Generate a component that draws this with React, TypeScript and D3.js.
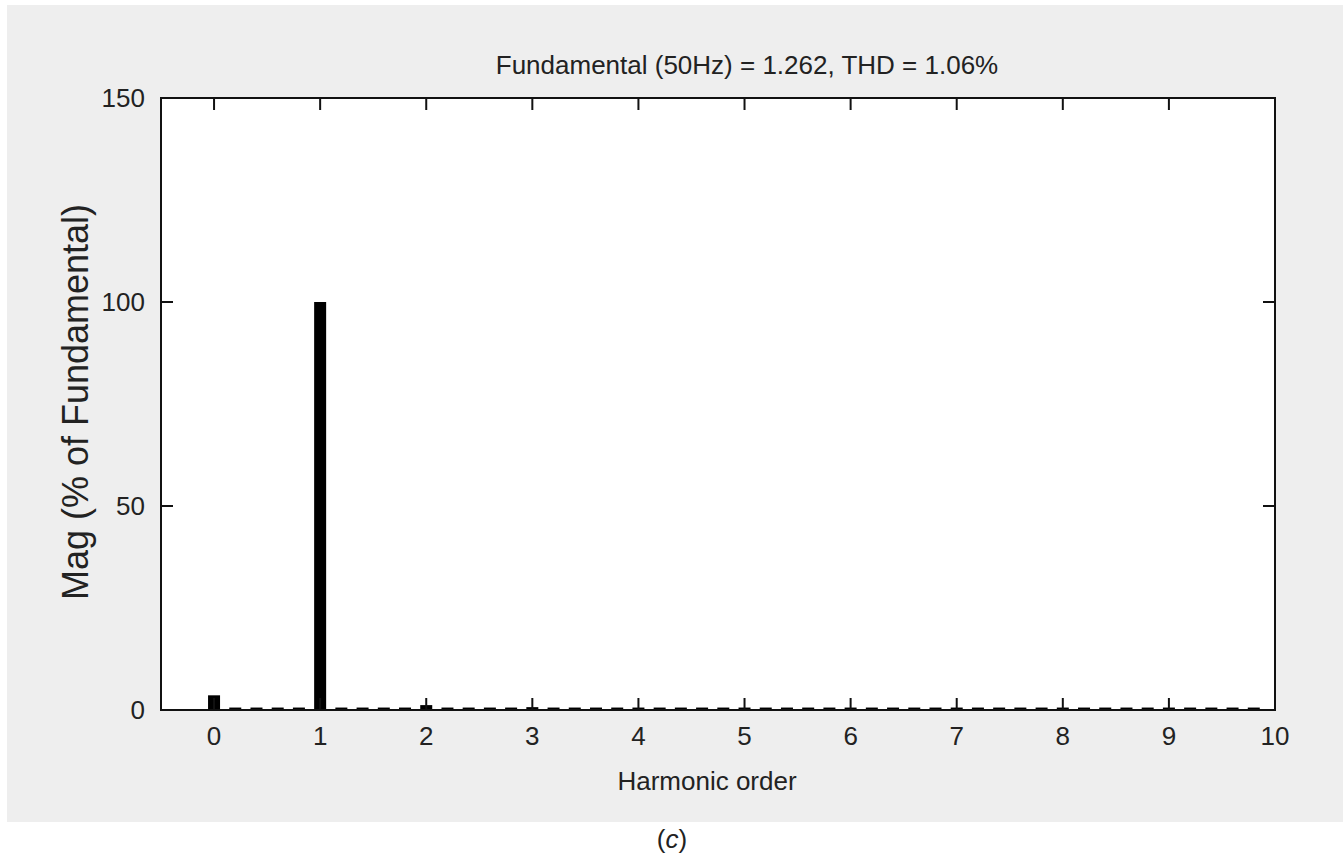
import { useRef, useEffect } from "react";
import * as d3 from "d3";

// harmonic bins, 0.2 order step (10 Hz resolution on a 50 Hz fundamental)
const orders = [
  0, 0.2, 0.4, 0.6, 0.8, 1, 1.2, 1.4, 1.6, 1.8,
  2, 2.2, 2.4, 2.6, 2.8, 3, 3.2, 3.4, 3.6, 3.8,
  4, 4.2, 4.4, 4.6, 4.8, 5, 5.2, 5.4, 5.6, 5.8,
  6, 6.2, 6.4, 6.6, 6.8, 7, 7.2, 7.4, 7.6, 7.8,
  8, 8.2, 8.4, 8.6, 8.8, 9, 9.2, 9.4, 9.6, 9.8,
];
const mags = [
  3.6, 0.6, 0.6, 0.6, 0.6, 100, 0.6, 0.6, 0.6, 0.6,
  1.2, 0.6, 0.6, 0.6, 0.6, 0.7, 0.6, 0.6, 0.6, 0.6,
  0.6, 0.6, 0.6, 0.6, 0.6, 0.6, 0.6, 0.6, 0.6, 0.6,
  0.6, 0.6, 0.6, 0.6, 0.6, 0.6, 0.6, 0.6, 0.6, 0.6,
  0.6, 0.6, 0.6, 0.6, 0.6, 0.6, 0.6, 0.6, 0.6, 0.6,
];
const xTicks = [0, 1, 2, 3, 4, 5, 6, 7, 8, 9, 10];
const yTicks = [0, 50, 100, 150];

const title = "Fundamental (50Hz) = 1.262, THD = 1.06%";
const xLabel = "Harmonic order";
const yLabel = "Mag (% of Fundamental)";

export default function App() {
  const ref = useRef<SVGSVGElement>(null);

  useEffect(() => {
    const svg = d3.select(ref.current);
    svg.selectAll("*").remove();

    const width = 1343;
    const left = 161, right = 1275, top = 98, bottom = 710;
    const font = "Liberation Sans, Arial, sans-serif";
    const fs = 26;

    // grey figure background
    svg.append("rect")
      .attr("x", 7).attr("y", 5)
      .attr("width", width - 7).attr("height", 817)
      .attr("fill", "#eeeeee");

    const x = d3.scaleLinear().domain([-0.5, 10]).range([left, right]);
    const y = d3.scaleLinear().domain([0, 150]).range([bottom, top]);

    svg.append("rect")
      .attr("x", left).attr("y", top)
      .attr("width", right - left).attr("height", bottom - top)
      .attr("fill", "#fff");

    // --- bars ---
    const barW = 12;
    svg.append("g")
      .selectAll("rect")
      .data(orders)
      .join("rect")
      .attr("x", (d) => x(d) - barW / 2)
      .attr("y", (d, i) => y(mags[i]))
      .attr("width", barW)
      .attr("height", (d, i) => bottom - y(mags[i]))
      .attr("fill", "#000");

    const tickLen = 12;
    const ax = svg.append("g").attr("stroke", "#111").attr("stroke-width", 2);

    // --- inner ticks ---
    xTicks.forEach((t) => {
      ax.append("line").attr("x1", x(t)).attr("x2", x(t))
        .attr("y1", bottom).attr("y2", bottom - tickLen);
      ax.append("line").attr("x1", x(t)).attr("x2", x(t))
        .attr("y1", top).attr("y2", top + tickLen);
    });
    yTicks.forEach((t) => {
      ax.append("line").attr("x1", left).attr("x2", left + tickLen)
        .attr("y1", y(t)).attr("y2", y(t));
      ax.append("line").attr("x1", right).attr("x2", right - tickLen)
        .attr("y1", y(t)).attr("y2", y(t));
    });

    // frame
    svg.append("rect")
      .attr("x", left).attr("y", top)
      .attr("width", right - left).attr("height", bottom - top)
      .attr("fill", "none").attr("stroke", "#111").attr("stroke-width", 2);

    // --- tick labels ---
    svg.append("g")
      .selectAll("text")
      .data(xTicks)
      .join("text")
      .attr("x", (d) => x(d))
      .attr("y", 745)
      .attr("text-anchor", "middle")
      .attr("font-family", font)
      .attr("font-size", fs)
      .attr("fill", "#222")
      .text((d) => d);

    svg.append("g")
      .selectAll("text")
      .data(yTicks)
      .join("text")
      .attr("x", 145)
      .attr("y", (d) => y(d) + 9)
      .attr("text-anchor", "end")
      .attr("font-family", font)
      .attr("font-size", fs)
      .attr("fill", "#222")
      .text((d) => d);

    // --- titles ---
    svg.append("text")
      .attr("x", 747).attr("y", 74)
      .attr("text-anchor", "middle")
      .attr("font-family", font).attr("font-size", fs).attr("fill", "#222")
      .text(title);

    svg.append("text")
      .attr("x", 707).attr("y", 790)
      .attr("text-anchor", "middle")
      .attr("font-family", font).attr("font-size", fs).attr("fill", "#222")
      .text(xLabel);

    svg.append("text")
      .attr("transform", `translate(88,402) rotate(-90)`)
      .attr("text-anchor", "middle")
      .attr("font-family", font).attr("font-size", 36).attr("fill", "#222")
      .text(yLabel);

    const cap = svg.append("text")
      .attr("x", 672).attr("y", 848)
      .attr("text-anchor", "middle")
      .attr("font-family", font).attr("font-size", fs).attr("fill", "#222");
    cap.append("tspan").text("(");
    cap.append("tspan").attr("font-style", "italic").text("c");
    cap.append("tspan").text(")");
  }, []);

  return (
    <svg
      ref={ref}
      width={1343}
      height={858}
      style={{ position: "absolute", left: 0, top: 0, background: "#fff" }}
    ></svg>
  );
}
